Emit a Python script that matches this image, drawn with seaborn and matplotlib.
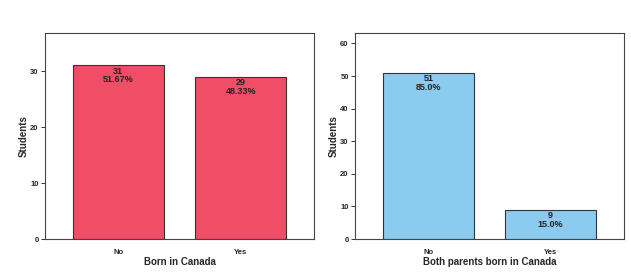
import numpy as np
import pandas as pd
import matplotlib
matplotlib.use('Agg')
import matplotlib.pyplot as plt
import seaborn as sns

# Data
categories = ['No', 'Yes']
born_counts = [31, 29]
born_pct = ['51.67%', '48.33%']
parents_counts = [51, 9]
parents_pct = ['85.0%', '15.0%']

sns.set_style('ticks')
plt.rcParams['font.family'] = ['Liberation Sans', 'DejaVu Sans']
plt.rcParams['font.weight'] = 'bold'

fig, axes = plt.subplots(1, 2, figsize=(6.31, 2.72), dpi=100)


def draw_panel(ax, counts, pcts, color, xlabel, ymax, yticks):
    df = pd.DataFrame({'cat': categories, 'n': counts})
    sns.barplot(data=df, x='cat', y='n', ax=ax, color=color, width=0.75,
                saturation=1, edgecolor='#333333', linewidth=0.8)
    for i, (c, p) in enumerate(zip(counts, pcts)):
        ax.text(i, c - ymax * 0.008, f'{c}\n{p}', ha='center', va='top',
                fontsize=6.5, fontweight='bold', color='#222222', linespacing=0.9)
    ax.set_xlim(-0.6, 1.6)
    ax.set_ylim(0, ymax)
    ax.set_yticks(yticks)
    ax.set_xlabel(xlabel, fontsize=7, fontweight='bold', labelpad=1)
    ax.set_ylabel('Students', fontsize=7, fontweight='bold', labelpad=1)
    ax.tick_params(axis='y', labelsize=5.5, length=3, width=0.7, pad=1.5,
                   color='#333333', direction='out', left=True)
    ax.tick_params(axis='x', labelsize=5.5, length=0, pad=7)
    for s in ax.spines.values():
        s.set_visible(True)
        s.set_color('#444444')
        s.set_linewidth(0.8)


draw_panel(axes[0], born_counts, born_pct, '#F04E66', 'Born in Canada', 36.8, [0, 10, 20, 30])
draw_panel(axes[1], parents_counts, parents_pct, '#8CCBF0', 'Both parents born in Canada', 63.2,
           [0, 10, 20, 30, 40, 50, 60])

# place axes to match reference boxes
axes[0].set_position([45 / 631, 1 - 239 / 272, 269 / 631, 206 / 272])
axes[1].set_position([355 / 631, 1 - 239 / 272, 269 / 631, 206 / 272])

fig.savefig('out.png', dpi=100)
